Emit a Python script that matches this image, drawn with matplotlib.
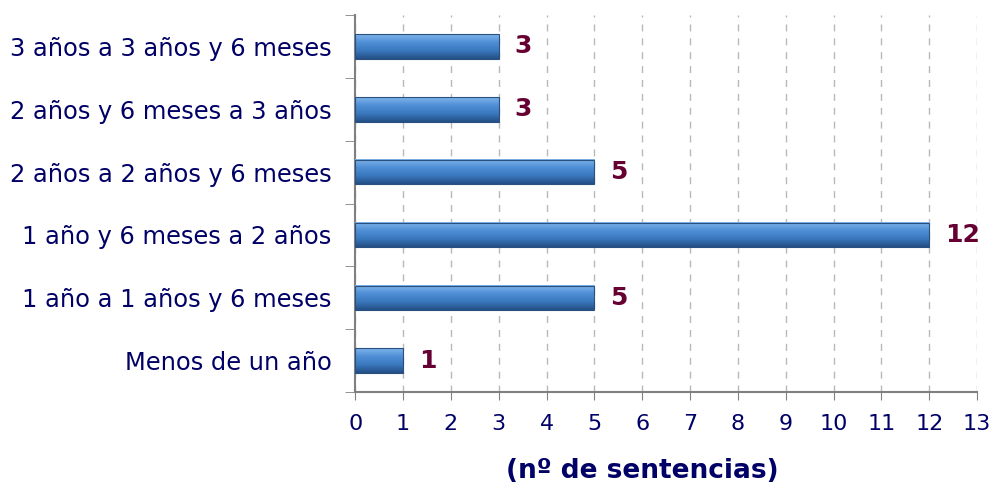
import numpy as np
import matplotlib
matplotlib.use("Agg")
import matplotlib.pyplot as plt
from matplotlib.colors import LinearSegmentedColormap

categories = [
    "Menos de un año",
    "1 año a 1 años y 6 meses",
    "1 año y 6 meses a 2 años",
    "2 años a 2 años y 6 meses",
    "2 años y 6 meses a 3 años",
    "3 años a 3 años y 6 meses",
]
values = [1, 5, 12, 5, 3, 3]

NAVY = "#000066"
MAROON = "#660033"

fig = plt.figure(figsize=(9.92, 4.84), dpi=100)
ax = fig.add_axes([0.358, 0.19, 0.627, 0.779])

y = np.arange(len(categories))
bar_h = 0.39

# vertical gradient for the bars (dark bottom, light top)
cmap = LinearSegmentedColormap.from_list(
    "bar", ["#234f85", "#3a78bd", "#4f8fd6", "#7fb4ea"])
grad = np.linspace(0, 1, 64).reshape(-1, 1)

for yi, v in zip(y, values):
    ax.imshow(grad, extent=(0, v, yi - bar_h / 2, yi + bar_h / 2),
              aspect="auto", cmap=cmap, origin="lower", zorder=3)
    ax.add_patch(plt.Rectangle((0, yi - bar_h / 2), v, bar_h, fill=False,
                               edgecolor="#2a5080", linewidth=0.8, zorder=4))
    ax.text(v + 0.33, yi, str(v), va="center", ha="left", fontsize=18,
            fontweight="bold", color=MAROON, zorder=5)

ax.set_xlim(0, 13)
ax.set_ylim(-0.5, len(categories) - 0.5)
ax.set_xticks(range(0, 14))
ax.set_yticks(y)
ax.set_yticklabels(categories)
ax.set_yticks(np.arange(-0.5, len(categories), 1), minor=True)

ax.tick_params(axis="y", which="major", length=0, pad=17, labelsize=17.4,
               labelcolor=NAVY)
ax.tick_params(axis="y", which="minor", length=7, direction="out", color="#808080")
ax.tick_params(axis="x", length=6, direction="out", color="#808080",
               labelsize=16, labelcolor=NAVY, pad=10)

ax.grid(axis="x", linestyle=(0, (5, 5)), color="#b8b8b8", linewidth=1, zorder=0)
ax.set_axisbelow(True)

for s in ["top", "right"]:
    ax.spines[s].set_visible(False)
for s in ["left", "bottom"]:
    ax.spines[s].set_color("#808080")
    ax.spines[s].set_linewidth(1.5)

ax.set_xlabel("(nº de sentencias)", fontsize=19, fontweight="bold",
              color=NAVY)
ax.xaxis.set_label_coords(0.461, -0.175)

fig.savefig("out.png", dpi=100)
